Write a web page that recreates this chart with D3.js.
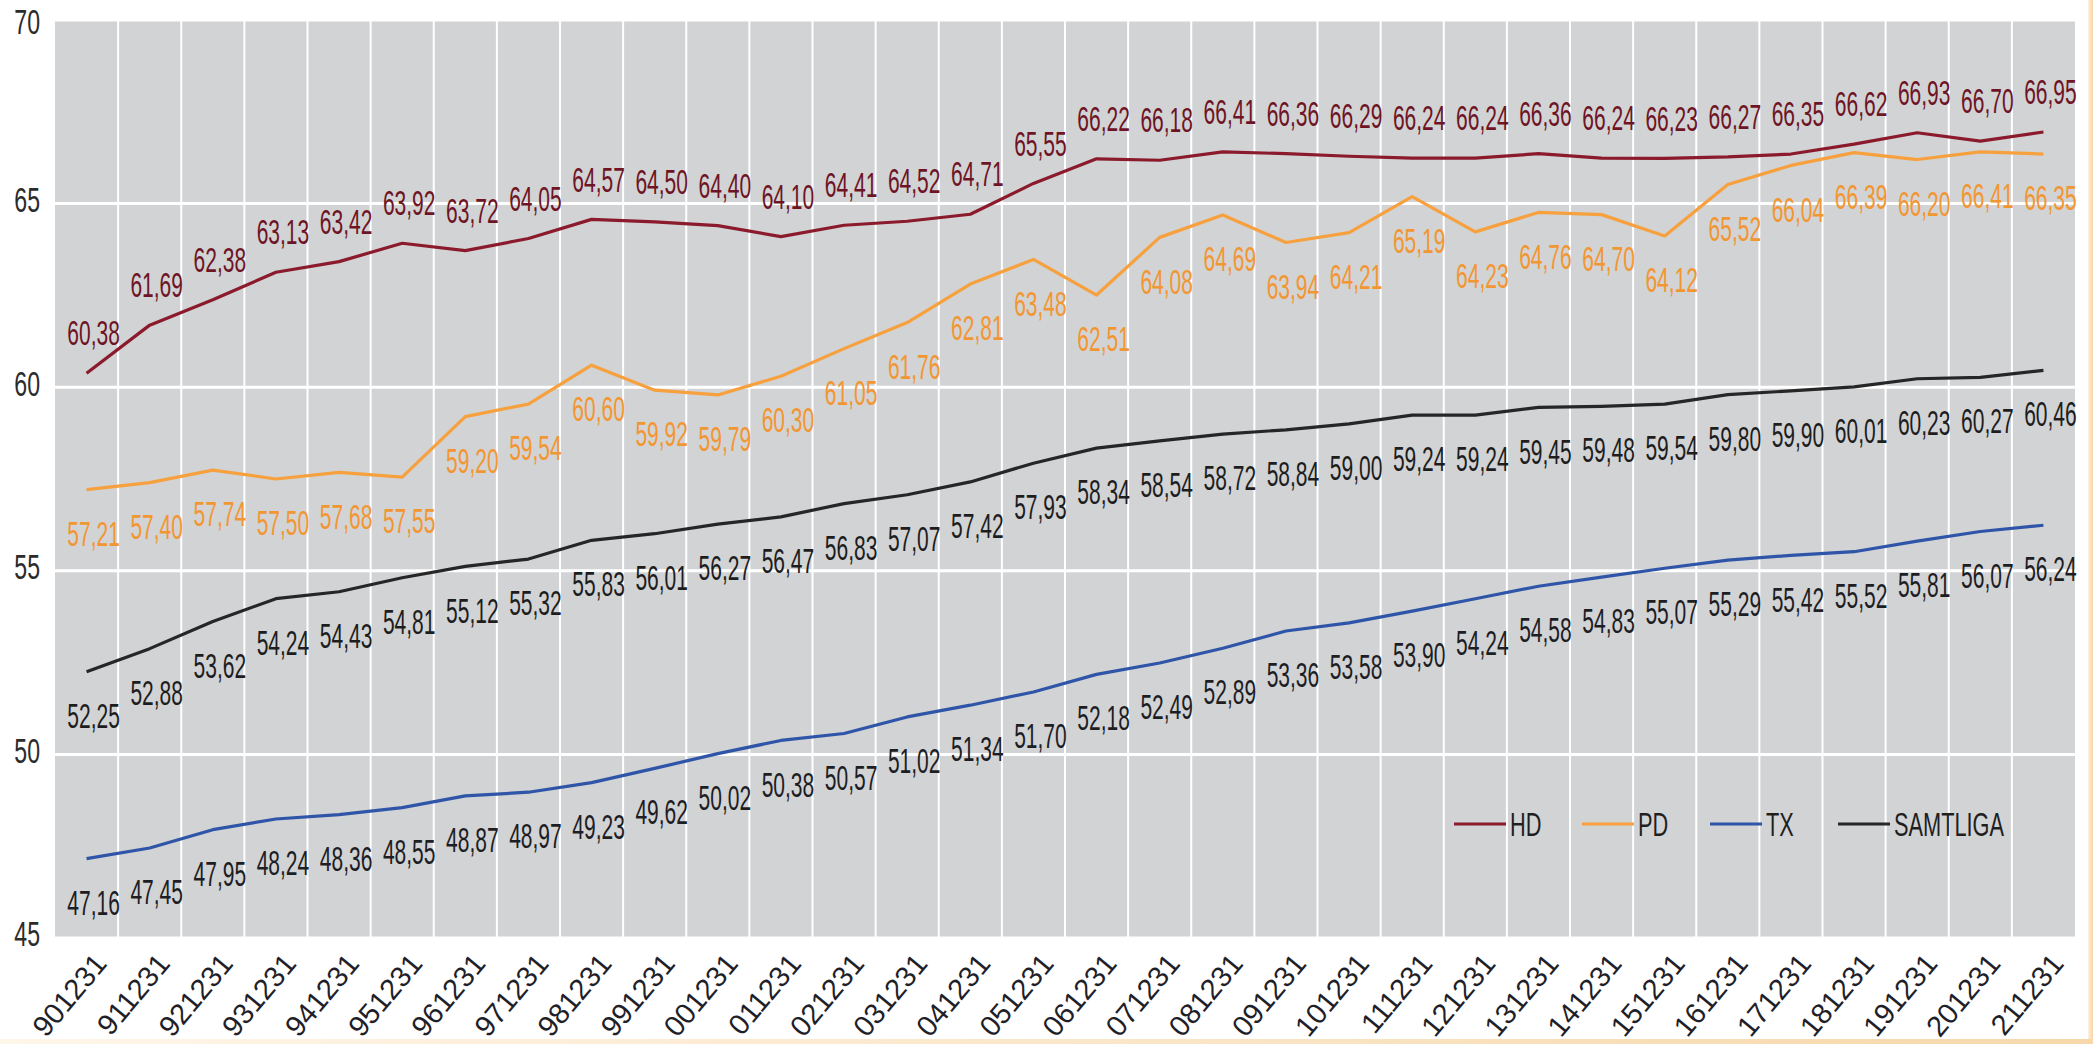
<!DOCTYPE html>
<html lang="sv">
<head>
    <meta charset="utf-8">
    <title>HD, PD, TX, SAMTLIGA</title>
    <script src="https://d3js.org/d3.v7.min.js"></script>
    <style>
        html, body {
            margin: 0;
            padding: 0;
            background: #fff;
        }
        svg text {
            font-family: "Liberation Sans", Arial, sans-serif;
        }
    </style>
</head>
<body>
<svg id="chart" width="2093" height="1044"></svg>

<script>
    // categories (year-end dates, yymmdd)
    const categories = ["901231", "911231", "921231", "931231", "941231", "951231", "961231", "971231",
        "981231", "991231", "001231", "011231", "021231", "031231", "041231", "051231",
        "061231", "071231", "081231", "091231", "101231", "111231", "121231", "131231",
        "141231", "151231", "161231", "171231", "181231", "191231", "201231", "211231"];

    const hd = [60.38, 61.69, 62.38, 63.13, 63.42, 63.92, 63.72, 64.05, 64.57, 64.50, 64.40, 64.10,
        64.41, 64.52, 64.71, 65.55, 66.22, 66.18, 66.41, 66.36, 66.29, 66.24, 66.24, 66.36,
        66.24, 66.23, 66.27, 66.35, 66.62, 66.93, 66.70, 66.95];
    const pd = [57.21, 57.40, 57.74, 57.50, 57.68, 57.55, 59.20, 59.54, 60.60, 59.92, 59.79, 60.30,
        61.05, 61.76, 62.81, 63.48, 62.51, 64.08, 64.69, 63.94, 64.21, 65.19, 64.23, 64.76,
        64.70, 64.12, 65.52, 66.04, 66.39, 66.20, 66.41, 66.35];
    const tx = [47.16, 47.45, 47.95, 48.24, 48.36, 48.55, 48.87, 48.97, 49.23, 49.62, 50.02, 50.38,
        50.57, 51.02, 51.34, 51.70, 52.18, 52.49, 52.89, 53.36, 53.58, 53.90, 54.24, 54.58,
        54.83, 55.07, 55.29, 55.42, 55.52, 55.81, 56.07, 56.24];
    const samtliga = [52.25, 52.88, 53.62, 54.24, 54.43, 54.81, 55.12, 55.32, 55.83, 56.01, 56.27, 56.47,
        56.83, 57.07, 57.42, 57.93, 58.34, 58.54, 58.72, 58.84, 59.00, 59.24, 59.24, 59.45,
        59.48, 59.54, 59.80, 59.90, 60.01, 60.23, 60.27, 60.46];

    const yTicks = [45, 50, 55, 60, 65, 70];

    // series styling; labels either above or below the point
    const series = [
        {name: "HD", values: hd, color: "#8b1b2c", labelColor: "#6e1424", labelPos: "above"},
        {name: "PD", values: pd, color: "#f7a03e", labelColor: "#f29632", labelPos: "below"},
        {name: "TX", values: tx, color: "#2f55a8", labelColor: "#1d1d24", labelPos: "below"},
        {name: "SAMTLIGA", values: samtliga, color: "#262626", labelColor: "#1d1d1d", labelPos: "below"},
    ];

    const plot = {left: 55, right: 2075, top: 20, bottom: 938};

    const svg = d3.select("#chart");

    const x = d3.scaleBand().domain(categories).range([plot.left, plot.right]);
    const y = d3.scaleLinear().domain([45, 70]).range([plot.bottom, plot.top]);
    const cx = c => x(c) + x.bandwidth() / 2;
    const fmt = v => d3.format(".2f")(v).replace(".", ",");

    // peach frame along right and bottom edges
    const defs = svg.append("defs");
    const gr = defs.append("linearGradient").attr("id", "edgeR").attr("x1", 0).attr("x2", 1);
    gr.append("stop").attr("offset", 0).attr("stop-color", "#fdf1e0");
    gr.append("stop").attr("offset", 1).attr("stop-color", "#f6d5a4");
    const gb = defs.append("linearGradient").attr("id", "edgeB").attr("x1", 0).attr("x2", 1);
    gb.append("stop").attr("offset", 0).attr("stop-color", "#fff6ea");
    gb.append("stop").attr("offset", 1).attr("stop-color", "#f6d8aa");
    svg.append("rect").attr("x", 2088).attr("y", 0).attr("width", 5).attr("height", 1044)
        .attr("fill", "url(#edgeR)");
    svg.append("rect").attr("x", 0).attr("y", 1039).attr("width", 2093).attr("height", 5)
        .attr("fill", "url(#edgeB)");

    // plot background
    svg.append("rect")
        .attr("x", plot.left).attr("y", plot.top)
        .attr("width", plot.right - plot.left).attr("height", plot.bottom - plot.top)
        .attr("fill", "#d2d3d5");

    // gridlines
    const grid = svg.append("g").attr("stroke", "#ffffff");
    grid.selectAll("line.h").data(yTicks).enter().append("line").attr("class", "h")
        .attr("x1", plot.left).attr("x2", plot.right)
        .attr("y1", d => y(d)).attr("y2", d => y(d))
        .attr("stroke-width", 3);
    grid.selectAll("line.v").data(categories.slice(1)).enter().append("line").attr("class", "v")
        .attr("x1", d => x(d)).attr("x2", d => x(d))
        .attr("y1", plot.top).attr("y2", plot.bottom)
        .attr("stroke-width", 2);

    // y axis labels (top one kept inside the page)
    svg.append("g").selectAll("text").data(yTicks).enter().append("text")
        .attr("transform", d => `translate(40,${Math.max(y(d) - 4, 22)}) scale(0.66,1)`)
        .attr("text-anchor", "end")
        .attr("dominant-baseline", "central")
        .attr("font-size", 35)
        .attr("fill", "#2b2b2b")
        .text(d => d);

    // x axis labels, rotated
    svg.append("g").selectAll("text").data(categories).enter().append("text")
        .attr("transform", d => `translate(${cx(d) + 14},${plot.bottom + 20}) rotate(-50)`)
        .attr("text-anchor", "end")
        .attr("dominant-baseline", "central")
        .attr("font-size", 29)
        .attr("fill", "#1f1f2a")
        .text(d => d);

    // lines
    const line = d3.line()
        .x((d, i) => cx(categories[i]))
        .y(d => y(d));

    svg.append("g").selectAll("path").data(series).enter().append("path")
        .attr("d", s => line(s.values))
        .attr("fill", "none")
        .attr("stroke", s => s.color)
        .attr("stroke-width", 3.2)
        .attr("stroke-linejoin", "round");

    // data labels
    series.forEach(function(s) {
        const off = s.labelPos == "above" ? -40 : 44;
        svg.append("g").selectAll("text").data(s.values).enter().append("text")
            .attr("transform", (d, i) => `translate(${cx(categories[i]) + 7},${y(d) + off}) scale(0.6,1)`)
            .attr("text-anchor", "middle")
            .attr("dominant-baseline", "central")
            .attr("font-size", 35)
            .attr("fill", s.labelColor)
            .text(d => fmt(d));
    });

    // legend
    const legend = svg.append("g").attr("transform", "translate(1454,824)");
    const item = legend.selectAll("g").data(series).enter().append("g")
        .attr("transform", (d, i) => `translate(${i * 128},0)`);
    item.append("line")
        .attr("x1", 0).attr("x2", 52)
        .attr("stroke", d => d.color)
        .attr("stroke-width", 3.2);
    item.append("text")
        .attr("transform", "translate(56,0) scale(0.64,1)")
        .attr("dominant-baseline", "central")
        .attr("font-size", 34)
        .attr("fill", "#1f1f1f")
        .text(d => d.name);
</script>
</body>
</html>
